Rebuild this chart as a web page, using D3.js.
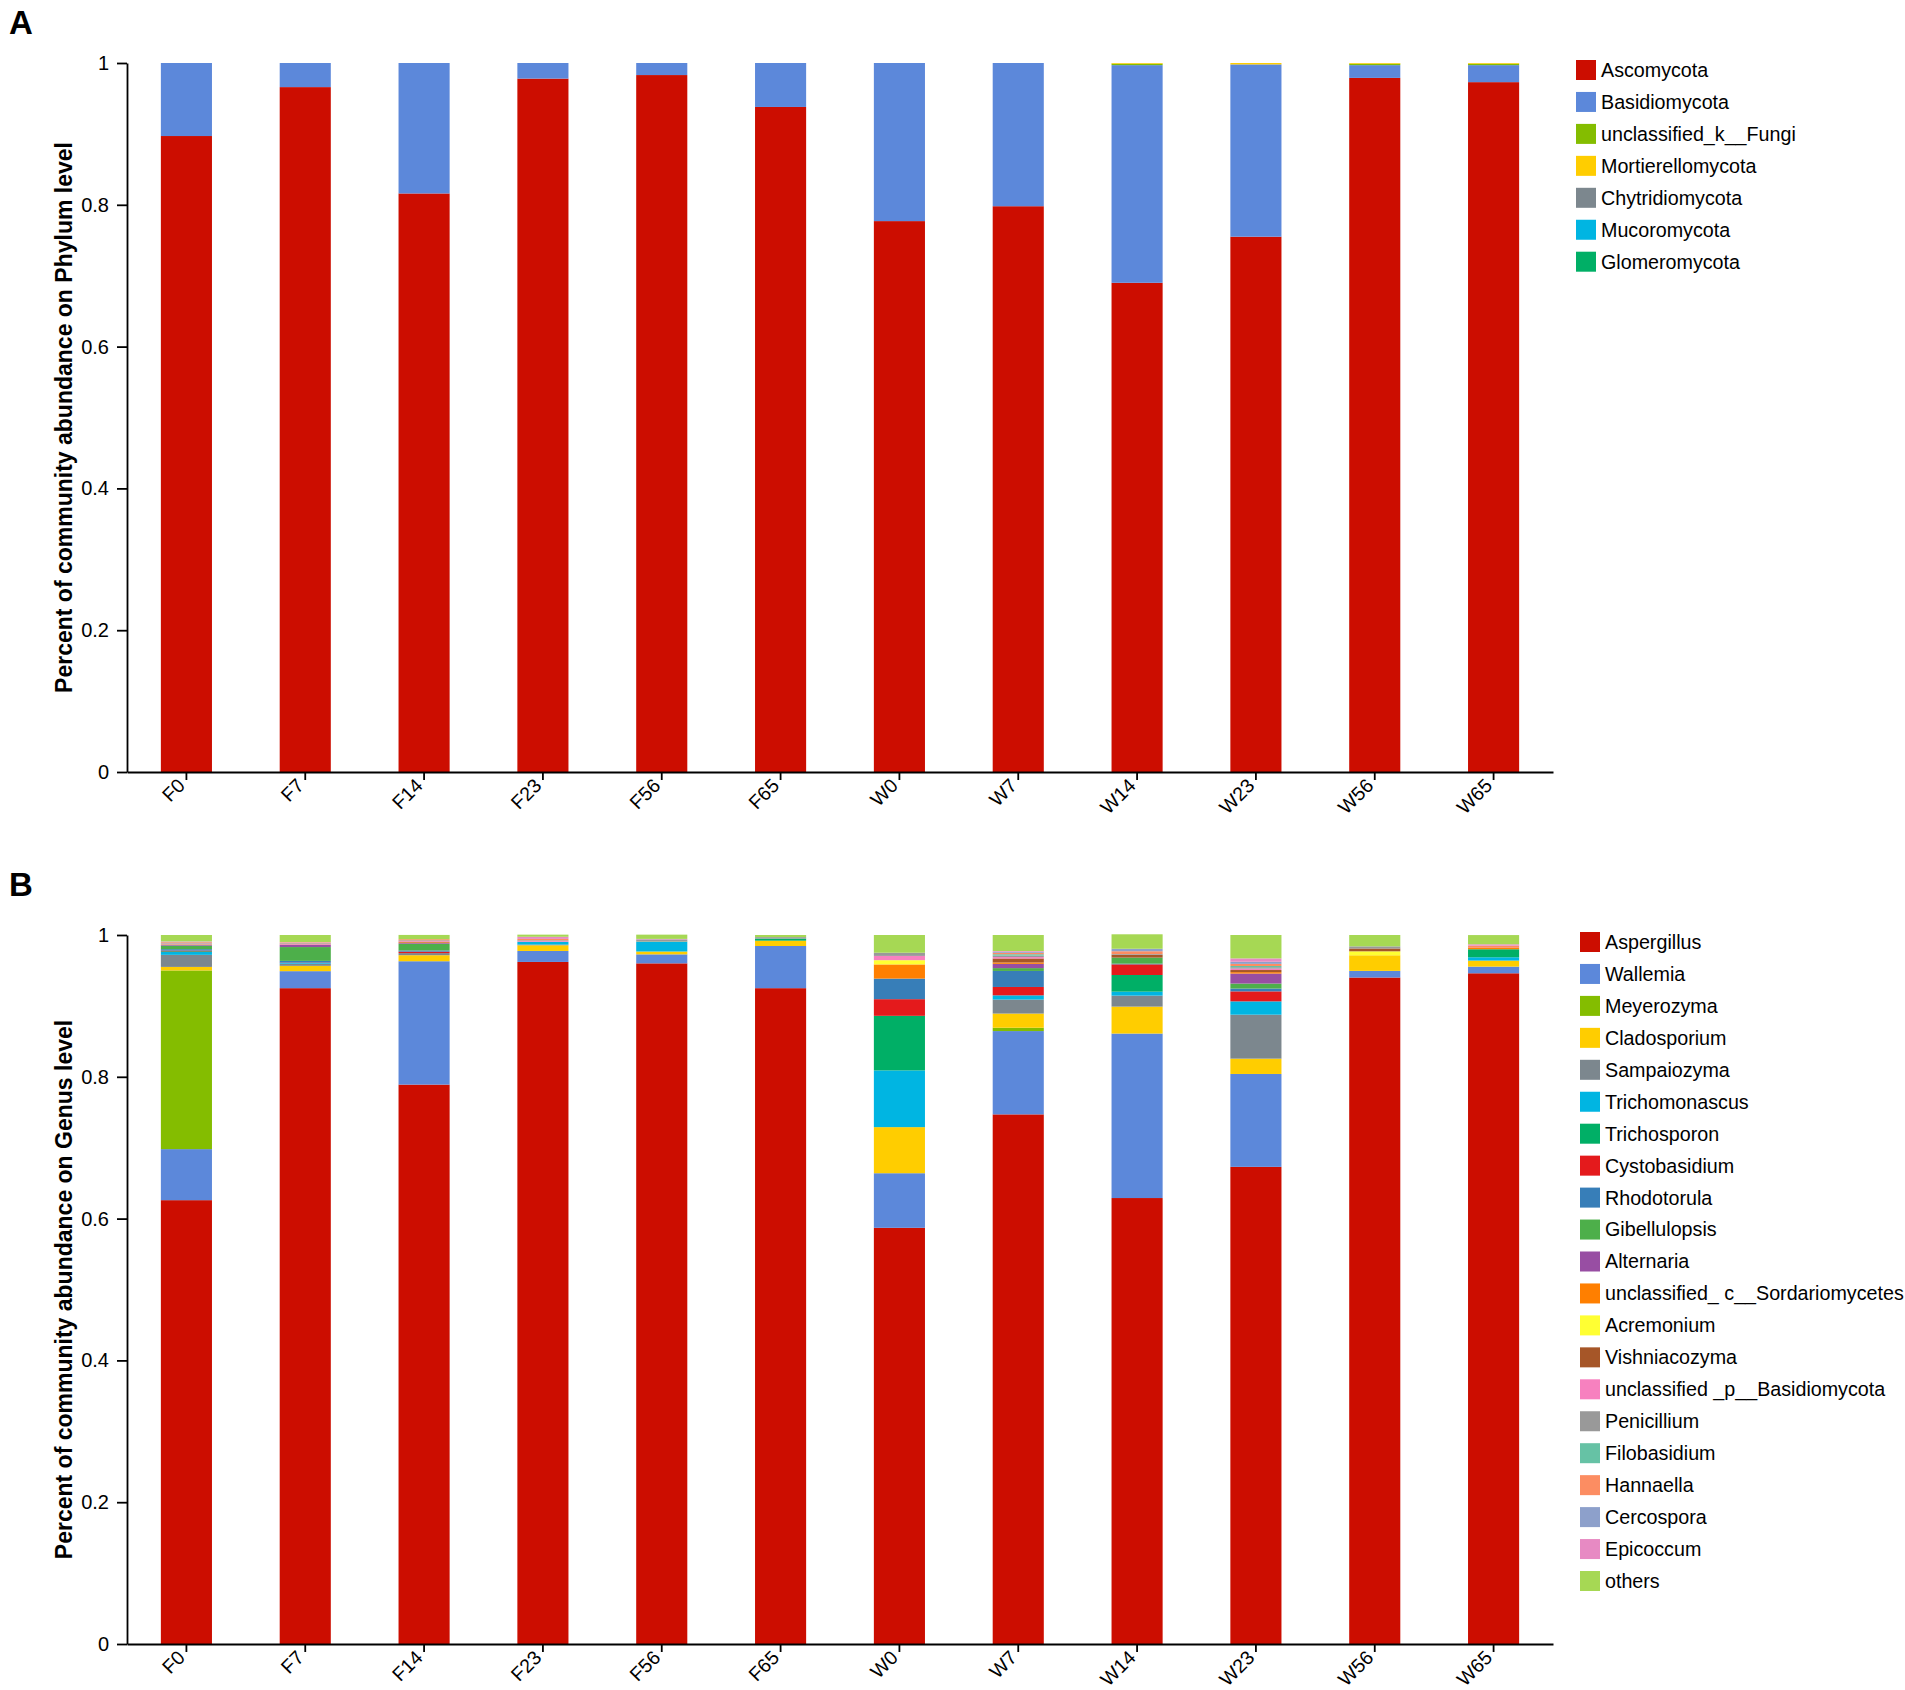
<!DOCTYPE html>
<html>
<head>
<meta charset="utf-8">
<script src="https://cdn.jsdelivr.net/npm/d3@7"></script>
<style>
  body { margin: 0; background: #fff; }
  text { font-family: "Liberation Sans", Arial, sans-serif; fill: #000; }
</style>
</head>
<body>
<svg id="chart" width="1905" height="1690"></svg>
<script>
// samples on the x axis
const samples = ["F0", "F7", "F14", "F23", "F56", "F65", "W0", "W7", "W14", "W23", "W56", "W65"];

// panel A - phylum level
const phylumNames = ["Ascomycota", "Basidiomycota", "unclassified_k__Fungi", "Mortierellomycota",
    "Chytridiomycota", "Mucoromycota", "Glomeromycota"];
const phylumColors = ["#cc0d00", "#5c88da", "#84bd00", "#ffcd00", "#7c878e", "#00b5e2", "#00af66"];
const ascomycota        = [0.897, 0.966, 0.816, 0.978, 0.983, 0.938, 0.777, 0.798, 0.690, 0.755, 0.979, 0.973];
const basidiomycota     = [0.103, 0.034, 0.184, 0.022, 0.017, 0.062, 0.223, 0.202, 0.307, 0.243, 0.018, 0.024];
const unclassifiedFungi = [0, 0, 0, 0, 0, 0, 0, 0, 0.002, 0, 0.002, 0.002];
const mortierellomycota = [0, 0, 0, 0, 0, 0, 0, 0, 0.001, 0.002, 0.001, 0.001];
const chytridiomycota   = [0, 0, 0, 0, 0, 0, 0, 0, 0, 0, 0, 0];
const mucoromycota      = [0, 0, 0, 0, 0, 0, 0, 0, 0, 0, 0, 0];
const glomeromycota     = [0, 0, 0, 0, 0, 0, 0, 0, 0, 0, 0, 0];
const phylumValues = [ascomycota, basidiomycota, unclassifiedFungi, mortierellomycota,
    chytridiomycota, mucoromycota, glomeromycota];

// panel B - genus level
const genusNames = ["Aspergillus", "Wallemia", "Meyerozyma", "Cladosporium", "Sampaiozyma", "Trichomonascus",
    "Trichosporon", "Cystobasidium", "Rhodotorula", "Gibellulopsis", "Alternaria",
    "unclassified_ c__Sordariomycetes", "Acremonium", "Vishniacozyma", "unclassified _p__Basidiomycota",
    "Penicillium", "Filobasidium", "Hannaella", "Cercospora", "Epicoccum", "others"];
const genusColors = ["#cc0d00", "#5c88da", "#84bd00", "#ffcd00", "#7c878e", "#00b5e2", "#00af66",
    "#e41a1c", "#377eb8", "#4daf4a", "#984ea3", "#ff7f00", "#ffff33", "#a65628", "#f781bf",
    "#999999", "#66c2a5", "#fc8d62", "#8da0cb", "#e78ac3", "#a6d854"];
const aspergillus    = [0.626, 0.925, 0.789, 0.962, 0.960, 0.925, 0.587, 0.747, 0.629, 0.673, 0.940, 0.946];
const wallemia       = [0.072, 0.024, 0.174, 0.0155, 0.0127, 0.0595, 0.077, 0.1175, 0.232, 0.131, 0.0094, 0.0094];
const meyerozyma     = [0.252, 0, 0, 0, 0, 0, 0, 0.0047, 0, 0, 0, 0];
const cladosporium   = [0.005, 0.0075, 0.0085, 0.008, 0.004, 0.0075, 0.065, 0.020, 0.038, 0.0216, 0.022, 0.0085];
const sampaiozyma    = [0.017, 0.003, 0.003, 0.001, 0, 0, 0, 0.0197, 0.0155, 0.062, 0, 0];
const trichomonascus = [0.004, 0.001, 0, 0.004, 0.0136, 0, 0.080, 0.006, 0.0056, 0.0188, 0, 0.0047];
const trichosporon   = [0.001, 0, 0, 0, 0, 0.003, 0.077, 0, 0.0235, 0, 0, 0.0113];
const cystobasidium  = [0.001, 0.0005, 0.002, 0, 0, 0, 0.0235, 0.0118, 0.015, 0.0141, 0, 0];
const rhodotorula    = [0.002, 0.0025, 0.0017, 0, 0, 0, 0.029, 0.0226, 0.001, 0.004, 0, 0];
const gibellulopsis  = [0.005, 0.0195, 0.0094, 0, 0.0005, 0, 0, 0.004, 0.0085, 0.007, 0, 0];
const alternaria     = [0.001, 0.003, 0.001, 0, 0, 0, 0, 0.006, 0, 0.0141, 0, 0];
const sordariomycetes = [0, 0, 0.001, 0, 0, 0, 0.020, 0.002, 0, 0.002, 0, 0.002];
const acremonium     = [0.0005, 0, 0, 0, 0, 0, 0.006, 0, 0, 0, 0.0056, 0];
const vishniacozyma  = [0.0005, 0.0005, 0.001, 0, 0, 0, 0, 0.0056, 0.004, 0.003, 0.004, 0];
const unclBasidio    = [0.001, 0.001, 0.001, 0.001, 0, 0, 0.006, 0.002, 0, 0.002, 0, 0];
const penicillium    = [0.001, 0.001, 0.001, 0.001, 0.003, 0.002, 0.0045, 0.002, 0.001, 0.002, 0.003, 0];
const filobasidium   = [0, 0, 0, 0, 0, 0, 0, 0.002, 0, 0.0017, 0, 0];
const hannaella      = [0.001, 0.001, 0.0015, 0.002, 0, 0, 0, 0.002, 0.004, 0.003, 0, 0.003];
const cercospora     = [0.0005, 0, 0, 0, 0, 0, 0, 0.0015, 0.0035, 0.003, 0, 0];
const epicoccum      = [0.0005, 0.0005, 0, 0.003, 0.0007, 0, 0, 0.001, 0, 0.0047, 0, 0.002];
const others         = [0.009, 0.010, 0.006, 0.003, 0.006, 0.003, 0.025, 0.0226, 0.0204, 0.033, 0.016, 0.013];
const genusValues = [aspergillus, wallemia, meyerozyma, cladosporium, sampaiozyma, trichomonascus,
    trichosporon, cystobasidium, rhodotorula, gibellulopsis, alternaria, sordariomycetes, acremonium,
    vishniacozyma, unclBasidio, penicillium, filobasidium, hannaella, cercospora, epicoccum, others];

const yTicks = [0, 0.2, 0.4, 0.6, 0.8, 1];

let svg = d3.select("#chart");

function drawPanel(opts) {
    let g = svg.append("g");

    // rows for d3.stack
    let rows = samples.map(function (s, i) {
        let row = {sample: s};
        opts.names.forEach(function (n, k) { row[n] = opts.values[k][i]; });
        return row;
    });
    let series = d3.stack().keys(opts.names)(rows);

    let x = d3.scaleBand()
        .domain(samples)
        .range([127, 1553])
        .paddingInner(0.57)
        .paddingOuter(0.285);
    let y = d3.scaleLinear()
        .domain([0, 1])
        .range([opts.bottom, opts.top]);
    let color = d3.scaleOrdinal().domain(opts.names).range(opts.colors);

    g.selectAll("g.layer")
        .data(series)
        .join("g")
        .attr("class", "layer")
        .attr("fill", d => color(d.key))
        .selectAll("rect")
        .data(d => d)
        .join("rect")
        .attr("x", d => x(d.data.sample))
        .attr("width", x.bandwidth())
        .attr("y", d => y(d[1]))
        .attr("height", d => Math.max(0, y(d[0]) - y(d[1])));

    // y axis
    let yAxis = g.append("g")
        .attr("transform", "translate(127,0)")
        .call(d3.axisLeft(y)
            .tickValues(yTicks)
            .tickFormat(d => d === 0 ? "0" : d === 1 ? "1" : d3.format(".1f")(d))
            .tickSize(10)
            .tickSizeOuter(0)
            .tickPadding(8));
    yAxis.selectAll("path, line").attr("stroke", "#000").attr("stroke-width", 1.8);
    yAxis.selectAll("text").style("font-size", "20px");

    // x axis
    let xAxis = g.append("g")
        .attr("transform", "translate(0," + opts.bottom + ")")
        .call(d3.axisBottom(x).tickSize(8).tickSizeOuter(0));
    xAxis.selectAll("path, line").attr("stroke", "#000").attr("stroke-width", 1.8);
    xAxis.selectAll("text")
        .style("font-size", "19.5px")
        .attr("text-anchor", "end")
        .attr("x", 0)
        .attr("y", 0)
        .attr("dy", "0.35em")
        .attr("transform", "translate(-5,10) rotate(-45)");

    // y title
    g.append("text")
        .attr("transform", "translate(72," + ((opts.top + opts.bottom) / 2) + ") rotate(-90)")
        .attr("text-anchor", "middle")
        .style("font-size", "23px")
        .style("font-weight", "bold")
        .text(opts.title);

    // panel letter
    g.append("text")
        .attr("x", 9)
        .attr("y", opts.letterY)
        .style("font-size", "33px")
        .style("font-weight", "bold")
        .text(opts.letter);

    // legend
    let legend = g.selectAll("g.legend")
        .data(opts.names)
        .join("g")
        .attr("class", "legend")
        .attr("transform", (d, i) => "translate(" + opts.legendX + "," + (opts.legendY + i * 31.95) + ")");
    legend.append("rect")
        .attr("x", 0)
        .attr("y", -10)
        .attr("width", 20)
        .attr("height", 20)
        .attr("fill", d => color(d));
    legend.append("text")
        .attr("x", 25)
        .attr("dy", "0.35em")
        .style("font-size", "19.7px")
        .text(d => d);
}

drawPanel({
    names: phylumNames, colors: phylumColors, values: phylumValues,
    top: 63, bottom: 772,
    title: "Percent of community abundance on Phylum level",
    letter: "A", letterY: 34,
    legendX: 1576, legendY: 70
});

drawPanel({
    names: genusNames, colors: genusColors, values: genusValues,
    top: 935, bottom: 1644,
    title: "Percent of community abundance on Genus level",
    letter: "B", letterY: 896,
    legendX: 1580, legendY: 942
});
</script>
</body>
</html>
